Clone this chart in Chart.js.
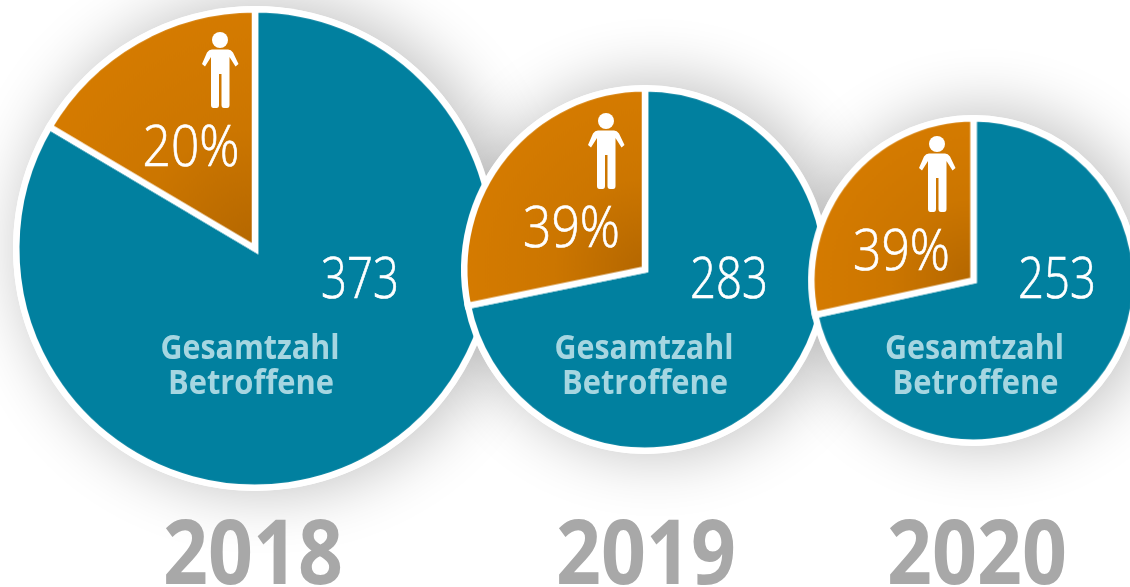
<!DOCTYPE html>
<html lang="de">
<head>
<meta charset="utf-8">
<style>
html,body{margin:0;padding:0;width:1130px;height:587px;overflow:hidden;background:#fff}
#stage{position:absolute;left:0;top:0;width:1130px;height:587px;overflow:hidden}
.shadow{position:absolute;border-radius:50%;background:#fff;box-shadow:10px -2px 62px 4px rgba(0,0,0,.24)}
canvas{position:absolute;display:block}
svg{position:absolute;left:0;top:0}
</style>
</head>
<body>
<div id="stage"></div>
<script src="https://cdn.jsdelivr.net/npm/chart.js@4/dist/chart.umd.min.js"></script>
<script>
// Data
const years = ['2018', '2019', '2020'];
const totals = ['373', '283', '253'];
const percentLabels = ['20%', '39%', '39%'];
const sliceLabels = ['Gesamtzahl Betroffene', 'Anteil'];
const tealShare = [83.5, 71.8, 71.6];
const orangeShare = [16.5, 28.2, 28.4];

// Layout
const centerX = [255, 645, 973.5];
const centerY = [248.5, 269.5, 280.5];
const radius = [239, 181, 162];
const stroke = 6.5;
const pad = 40;

const stage = document.getElementById('stage');

years.forEach((y, i) => {
  const r = radius[i] + stroke / 2;
  const s = document.createElement('div');
  s.className = 'shadow';
  s.style.cssText = `left:${centerX[i]-r}px;top:${centerY[i]-r}px;width:${2*r}px;height:${2*r}px`;
  stage.appendChild(s);
});

years.forEach((y, i) => {
  const size = 2 * (radius[i] + stroke / 2 + pad);
  const c = document.createElement('canvas');
  c.width = size; c.height = size;
  c.style.cssText = `left:${centerX[i]-size/2}px;top:${centerY[i]-size/2}px;width:${size}px;height:${size}px`;
  stage.appendChild(c);
  new Chart(c, {
    type: 'pie',
    data: {
      labels: sliceLabels,
      datasets: [{
        data: [tealShare[i], orangeShare[i]],
        backgroundColor: (ctx) => {
          if (ctx.dataIndex === 0) return '#01809f';
          const a = ctx.chart.chartArea;
          if (!a) return '#d27a00';
          const cx = (a.left + a.right) / 2, cy = (a.top + a.bottom) / 2;
          const g = ctx.chart.ctx.createRadialGradient(cx, cy, 0, cx, cy, radius[i]);
          g.addColorStop(0, '#b46700');
          g.addColorStop(0.5, '#cc7600');
          g.addColorStop(1, '#d57b00');
          return g;
        },
        borderColor: '#ffffff',
        borderWidth: stroke,
        borderAlign: 'center',
        borderJoinStyle: 'miter'
      }]
    },
    options: {
      responsive: false,
      animation: false,
      layout: { padding: pad },
      plugins: { legend: { display: false }, tooltip: { enabled: false } }
    }
  });
});

// Text overlay
const NS = 'http://www.w3.org/2000/svg';
const svg = document.createElementNS(NS, 'svg');
svg.setAttribute('width', 1130); svg.setAttribute('height', 587);
stage.appendChild(svg);
function text(str, cx, base, width, size, weight, fill, family, extra) {
  const t = document.createElementNS(NS, 'text');
  t.textContent = str;
  t.setAttribute('x', cx - width / 2);
  t.setAttribute('y', base);
  t.setAttribute('textLength', width);
  t.setAttribute('lengthAdjust', 'spacingAndGlyphs');
  t.setAttribute('font-size', size);
  t.setAttribute('font-weight', weight);
  t.setAttribute('font-family', family);
  t.setAttribute('fill', fill);
  if (extra) { t.setAttribute('stroke', fill); t.setAttribute('stroke-width', extra); }
  svg.appendChild(t);
}
function person(x, y) {
  const g = document.createElementNS(NS, 'g');
  g.setAttribute('transform', `translate(${x} ${y})`);
  g.setAttribute('fill', '#fff');
  const h = document.createElementNS(NS, 'circle');
  h.setAttribute('cx', 18); h.setAttribute('cy', 8); h.setAttribute('r', 8);
  const p = document.createElementNS(NS, 'path');
  p.setAttribute('d', 'M10 17.5H26Q29 17.5 31 20.5L36.5 32L33.5 34.5L27.5 25V73Q27.5 76 25 76H22Q19.5 76 19.5 73V42H17V73Q17 76 14.5 76H11.5Q9 76 9 73V25L3 34.5L0 32L5 20.5Q7 17.5 10 17.5Z');
  g.appendChild(h); g.appendChild(p);
  svg.appendChild(g);
}
const light = '"Open Sans", Lato, sans-serif';
const bold = '"Open Sans", "Noto Sans", sans-serif';
const totalX = [360, 729, 1057];
const pctX = [191, 571.5, 901.5];
const pctBase = [166, 247, 270];
const personX = [202, 588, 919];
const personY = [32, 113, 136];
const labelX = [250, 644, 974.5];
const yearX = [253, 646, 977];
const labelWords = sliceLabels[0].split(' ');
years.forEach((y, i) => {
  text(totals[i], totalX[i], 298, 78, 57, 300, '#ffffff', light, 0.7);
  text(percentLabels[i], pctX[i], pctBase[i], 97, 57, 300, '#ffffff', light, 0.7);
  person(personX[i], personY[i]);
  text(labelWords[0], labelX[i], 359, 179, 34, 700, '#a6d6e1', bold);
  text(labelWords[1], labelX[i] + 1, 394, 166, 34, 700, '#a6d6e1', bold);
  text(y, yearX[i], 584, 180, 90, 700, '#a8a8a8', bold);
});
</script>
</body>
</html>
